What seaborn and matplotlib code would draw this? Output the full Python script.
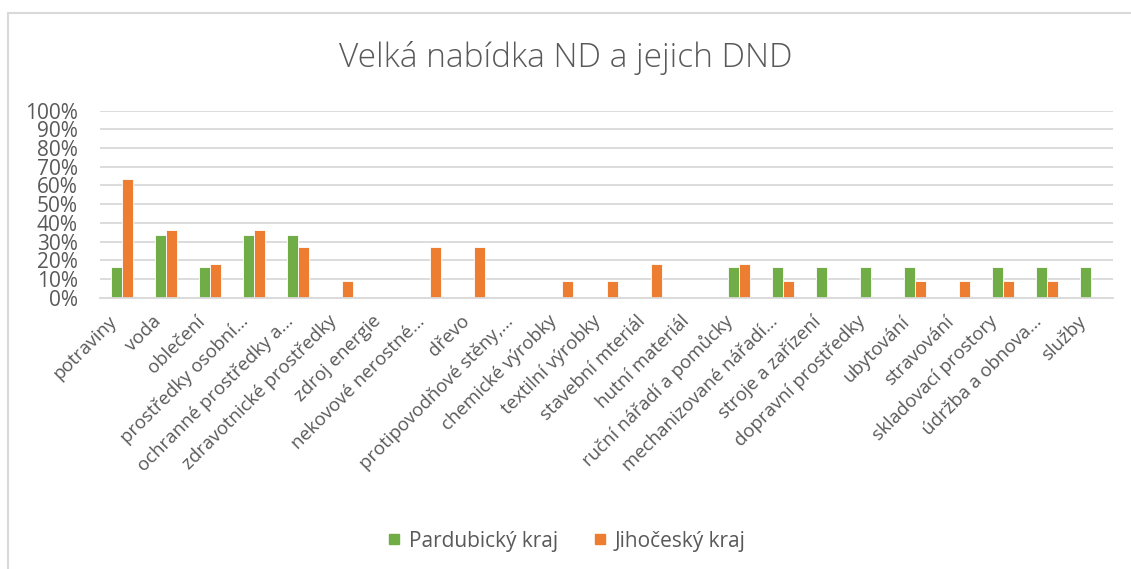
import numpy as np
import pandas as pd
import matplotlib
matplotlib.use("Agg")
import matplotlib.pyplot as plt
import matplotlib.transforms as mtransforms
from matplotlib.lines import Line2D
from matplotlib.ticker import FuncFormatter
import seaborn as sns

categories = [
    "potraviny", "voda", "oblečení", "prostředky osobní…", "ochranné prostředky a…",
    "zdravotnické prostředky", "zdroj energie", "nekovové nerostné…", "dřevo",
    "protipovodňové stěny,…", "chemické výrobky", "textilní výrobky", "stavební mteriál",
    "hutní materiál", "ruční nářadí a pomůcky", "mechanizované nářadí…", "stroje a zařízení",
    "dopravní prostředky", "ubytování", "stravování", "skladovací prostory",
    "údržba a obnova…", "služby",
]
series = ["Pardubický kraj", "Jihočeský kraj"]

# shares (Pardubický in sixths, Jihočeský in elevenths)
pardubicky = [1/6, 2/6, 1/6, 2/6, 2/6, 0, 0, 0, 0, 0, 0, 0, 0,
              0, 1/6, 1/6, 1/6, 1/6, 1/6, 0, 1/6, 1/6, 1/6]
jihocesky = [7/11, 4/11, 2/11, 4/11, 3/11, 1/11, 0, 3/11, 3/11, 0, 1/11, 1/11, 2/11,
             0, 2/11, 1/11, 0, 0, 1/11, 1/11, 1/11, 1/11, 0]

colors = ["#70AD47", "#ED7D31"]

df = pd.DataFrame({
    "kategorie": categories * 2,
    "kraj": [series[0]] * len(categories) + [series[1]] * len(categories),
    "podil": pardubicky + jihocesky,
})

sns.set_theme(style="white")
plt.rcParams["font.family"] = ["Open Sans", "DejaVu Sans"]

W, H = 1131, 569
fig = plt.figure(figsize=(W / 100, H / 100), dpi=100)
ax = fig.add_axes([100 / W, 1 - 297.7 / H, 1013 / W, 187 / H])

sns.barplot(data=df, x="kategorie", y="podil", hue="kraj", palette=colors,
            width=0.5, edgecolor="white", linewidth=0.6, saturation=1,
            ax=ax, legend=False)

ax.set_ylim(0, 1)
ax.set_xlim(-0.5, len(categories) - 0.5)
ax.set_yticks(np.arange(0, 1.01, 0.1))
ax.yaxis.set_major_formatter(FuncFormatter(lambda v, p: f"{v * 100:.0f}%"))
ax.grid(axis="y", color="#D9D9D9", linewidth=1.3)
ax.set_axisbelow(True)
for s in ["top", "right", "left"]:
    ax.spines[s].set_visible(False)
ax.spines["bottom"].set_color("#D9D9D9")
ax.spines["bottom"].set_linewidth(1.3)
ax.set_xlabel("")
ax.set_ylabel("")
ax.tick_params(axis="y", labelsize=15, colors="#595959", length=0, pad=16)
ax.tick_params(axis="x", length=0, pad=15)
ax.set_xticks(range(len(categories)))
ax.set_xticklabels(categories, rotation=45, ha="right", va="center",
                   rotation_mode="anchor", fontsize=13.4, color="#595959")
# labels end slightly left of the category centre, as in the original
offset = mtransforms.ScaledTranslation(-8 / 100, 0, fig.dpi_scale_trans)
for lab in ax.get_xticklabels():
    lab.set_transform(lab.get_transform() + offset)

fig.text(0.5, 1 - 58 / H, "Velká nabídka ND a jejich DND", ha="center", va="center",
         fontsize=24, fontweight="light", color="#595959")

handles = [Line2D([0], [0], marker="s", linestyle="", markersize=7.5,
                  markerfacecolor=c, markeredgecolor=c) for c in colors]
fig.legend(handles, series, loc="center", bbox_to_anchor=(0.5, 1 - 541 / H), ncol=2,
           frameon=False, fontsize=15, labelcolor="#595959", handlelength=0.8,
           handletextpad=0.3, columnspacing=1.6)

# chart area border
fig.add_artist(Line2D([7.5 / W, 7.5 / W], [0, 1 - 12.5 / H], transform=fig.transFigure,
                      color="#D9D9D9", linewidth=1.5))
fig.add_artist(Line2D([7.5 / W, 1], [1 - 12.5 / H, 1 - 12.5 / H], transform=fig.transFigure,
                      color="#D9D9D9", linewidth=1.5))

fig.savefig("out.png", dpi=100)
